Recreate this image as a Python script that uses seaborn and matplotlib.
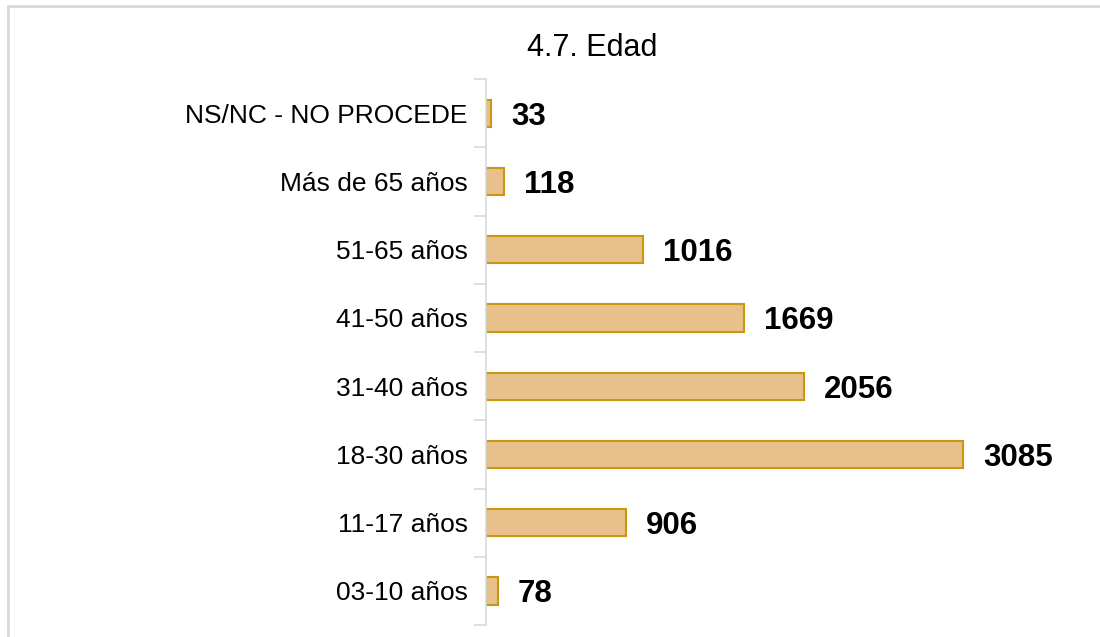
import numpy as np
import pandas as pd
import matplotlib
matplotlib.use("Agg")
import matplotlib.pyplot as plt
from matplotlib.lines import Line2D
from matplotlib.ticker import FixedLocator
import seaborn as sns

# Data (top to bottom as shown)
categories = ["NS/NC - NO PROCEDE", "Más de 65 años", "51-65 años", "41-50 años",
              "31-40 años", "18-30 años", "11-17 años", "03-10 años"]
counts = [33, 118, 1016, 1669, 2056, 3085, 906, 78]
title = "4.7. Edad"

sns.set_style("white")
plt.rcParams["font.family"] = ["Liberation Sans", "DejaVu Sans"]

df = pd.DataFrame({"edad": categories, "n": counts})

fig = plt.figure(figsize=(11, 6.37), dpi=100)
ax = fig.add_axes([0.4418, 0.0188, 0.5127, 0.857])

sns.barplot(data=df, y="edad", x="n", order=categories, orient="h",
            color="#E8C08C", edgecolor="#C9980C", linewidth=1.5,
            width=0.4, saturation=1, ax=ax)

for i, v in enumerate(counts):
    ax.text(v + 128, i, f"{v}", va="center_baseline", ha="left",
            fontsize=22.5, fontweight="bold", color="black")

ax.set_xlim(0, 3646)
ax.set_ylim(len(categories) - 0.5, -0.5)
ax.set_xlabel("")
ax.set_ylabel("")
ax.set_xticks([])
for s in ["top", "right", "bottom"]:
    ax.spines[s].set_visible(False)
ax.spines["left"].set_color("#D9D9D9")
ax.spines["left"].set_linewidth(1.2)
for lbl in ax.get_yticklabels():
    lbl.set_verticalalignment("center_baseline")
ax.tick_params(axis="y", which="major", length=0, pad=13, labelsize=19, labelcolor="black")
ax.yaxis.set_minor_locator(FixedLocator(np.arange(-0.5, len(categories), 1.0)))
ax.tick_params(axis="y", which="minor", left=True, length=9, width=1.2, color="#D9D9D9")

fig.text(592 / 1100, 1 - 45 / 637, title, ha="center", va="center_baseline", fontsize=22, color="black")

# outer frame (cropped at right/bottom)
fig.add_artist(Line2D([8 / 1100, 8 / 1100], [0, 1 - 6 / 637], transform=fig.transFigure,
                      color="#D9D9D9", linewidth=2))
fig.add_artist(Line2D([8 / 1100, 1], [1 - 6 / 637, 1 - 6 / 637], transform=fig.transFigure,
                      color="#D9D9D9", linewidth=2))

fig.savefig("out.png", dpi=100)
